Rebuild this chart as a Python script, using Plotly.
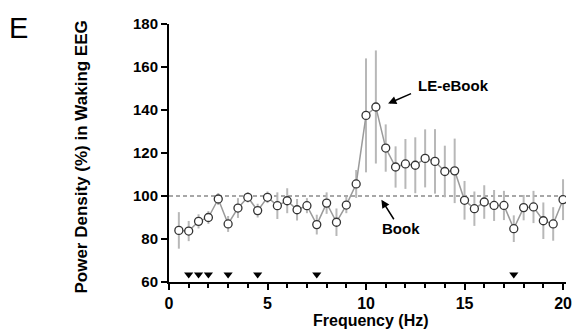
import plotly.graph_objects as go

# frequency bins (Hz) and power density (% of Book baseline), mean +/- error
freqs = [0.5, 1.0, 1.5, 2.0, 2.5, 3.0, 3.5, 4.0, 4.5, 5.0,
         5.5, 6.0, 6.5, 7.0, 7.5, 8.0, 8.5, 9.0, 9.5, 10.0,
         10.5, 11.0, 11.5, 12.0, 12.5, 13.0, 13.5, 14.0, 14.5, 15.0,
         15.5, 16.0, 16.5, 17.0, 17.5, 18.0, 18.5, 19.0, 19.5, 20.0]
means = [84.0, 83.7, 88.2, 90.0, 98.6, 87.0, 94.4, 99.4, 93.2, 99.4,
         95.5, 97.8, 93.6, 95.5, 86.7, 96.7, 87.8, 95.8, 105.6, 137.5,
         141.4, 122.3, 113.5, 114.9, 114.3, 117.5, 116.1, 111.4, 111.7, 98.0,
         94.1, 97.2, 95.6, 95.6, 84.8, 94.6, 94.9, 88.5, 87.0, 98.3]
errors = [8.5, 4.7, 3.3, 3.0, 2.8, 3.7, 4.6, 2.4, 3.2, 2.7,
          6.2, 5.8, 5.0, 3.5, 4.6, 5.0, 6.4, 3.8, 6.5, 26.5,
          26.3, 11.0, 9.6, 11.6, 13.0, 13.5, 15.0, 12.0, 15.0, 9.0,
          8.0, 7.8, 7.2, 6.8, 6.2, 5.9, 7.5, 8.5, 7.8, 9.5]
sig_freqs = [1.0, 1.5, 2.0, 3.0, 4.5, 7.5, 17.5]
baseline = 100
x_ticks = [0, 5, 10, 15, 20]
y_ticks = [60, 80, 100, 120, 140, 160, 180]

FONT = "Liberation Sans, Arial, sans-serif"

fig = go.Figure()

fig.add_shape(type="line", x0=0, x1=20, y0=baseline, y1=baseline,
              xref="x", yref="y", layer="below",
              line=dict(color="#8a8a8a", width=1.5, dash="4px,3px"))

fig.add_trace(go.Scatter(
    x=freqs, y=means,
    mode="lines+markers",
    line=dict(color="#9a9a9a", width=1.5),
    marker=dict(symbol="circle", size=8, color="white",
                line=dict(color="#333333", width=1.3)),
    error_y=dict(type="data", array=errors, visible=True,
                 color="#b8b8b8", thickness=2, width=0),
    showlegend=False,
))

fig.add_trace(go.Scatter(
    x=sig_freqs, y=[63.5] * len(sig_freqs),
    mode="markers",
    marker=dict(symbol="triangle-down", size=8, color="black"),
    showlegend=False,
))

axis_common = dict(
    showline=True, linecolor="black", linewidth=2,
    ticks="outside", ticklen=6, tickwidth=2, tickcolor="black",
    showgrid=False, zeroline=False, automargin=False,
)

fig.update_xaxes(
    range=[0, 20.15], tickvals=x_ticks,
    tickfont=dict(family=FONT, size=16, color="black", weight="bold"),
    minor=dict(ticks="outside", dtick=1, ticklen=4, tickwidth=1.5, tickcolor="black"),
    **axis_common,
)
fig.update_yaxes(
    range=[60, 180], tickvals=y_ticks,
    tickfont=dict(family=FONT, size=15, color="black", weight="bold"),
    **axis_common,
)

fig.add_annotation(text="<b>Power Density (%) in Waking EEG</b>", xref="paper", yref="paper",
                   x=-0.22, y=0.485, xanchor="center", yanchor="middle",
                   textangle=-90, showarrow=False,
                   font=dict(family=FONT, size=17, color="black"))
fig.add_annotation(text="<b>Frequency (Hz)</b>", xref="paper", yref="paper",
                   x=0.508, y=-0.15, xanchor="center", yanchor="middle", showarrow=False,
                   font=dict(family=FONT, size=16, color="black"))
fig.add_annotation(text="E", xref="paper", yref="paper",
                   x=-0.408, y=0.984, xanchor="left", yanchor="middle", showarrow=False,
                   font=dict(family=FONT, size=29, color="black"))

# series labels with arrows
fig.add_annotation(text="<b>LE-eBook</b>", x=14.42, y=151.4, showarrow=False,
                   font=dict(family=FONT, size=15, color="black"))
fig.add_annotation(x=11.12, y=143.0, ax=12.36, ay=147.9, axref="x", ayref="y",
                   text="", showarrow=True, arrowhead=2, arrowsize=1.1,
                   arrowwidth=1.5, arrowcolor="black")
fig.add_annotation(text="<b>Book</b>", x=11.8, y=84.7, showarrow=False,
                   font=dict(family=FONT, size=15, color="black"))
fig.add_annotation(x=10.78, y=98.3, ax=11.46, ay=88.5, axref="x", ayref="y",
                   text="", showarrow=True, arrowhead=2, arrowsize=1.1,
                   arrowwidth=1.5, arrowcolor="black")

fig.update_layout(
    width=573, height=329,
    margin=dict(l=169, r=7, t=24, b=47),
    paper_bgcolor="white", plot_bgcolor="white",
    font=dict(family=FONT, color="black"),
)

# drop the default page margin so the figure fills the window exactly
fig.write_html("out.html", config={"displayModeBar": False},
               post_script="document.body.style.margin='0';document.body.style.overflow='hidden';")
